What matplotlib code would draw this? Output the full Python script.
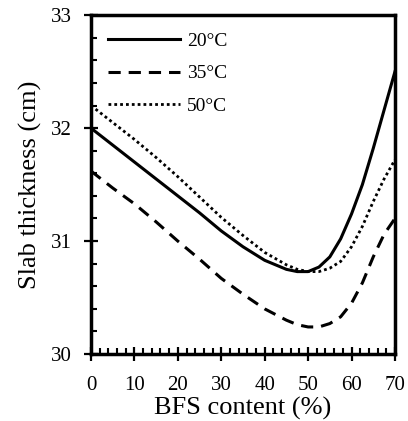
import matplotlib
matplotlib.use("Agg")
import matplotlib.pyplot as plt
from matplotlib.ticker import MultipleLocator

plt.rcParams['font.family'] = ['Liberation Serif', 'DejaVu Serif']

# datos
bfs = [0, 5, 10, 15, 20, 25, 30, 35, 40, 45, 47.5, 50, 52.5, 55, 57.5, 60, 62.5, 65, 67.5, 70]
t20 = [32.0, 31.85, 31.70, 31.55, 31.40, 31.25, 31.09, 30.95, 30.83, 30.75, 30.73, 30.73, 30.77, 30.86, 31.02, 31.24, 31.50, 31.82, 32.16, 32.50]
t35 = [31.62, 31.47, 31.33, 31.17, 31.00, 30.84, 30.67, 30.53, 30.40, 30.30, 30.26, 30.24, 30.24, 30.27, 30.33, 30.45, 30.63, 30.86, 31.06, 31.20]
t50 = [32.20, 32.05, 31.90, 31.74, 31.57, 31.39, 31.21, 31.05, 30.90, 30.79, 30.75, 30.73, 30.73, 30.76, 30.82, 30.95, 31.13, 31.35, 31.55, 31.72]
etiquetas = ['20\u00b0C', '35\u00b0C', '50\u00b0C']

fig = plt.figure(figsize=(4.08, 4.21), dpi=100)
ax = fig.add_axes([0.223, 0.159, 0.745, 0.805])

ax.plot(bfs, t20, color='black', lw=2.2, linestyle='-', label=etiquetas[0])
ax.plot(bfs, t35, color='black', lw=2.2, linestyle=(0, (4, 2.6)), label=etiquetas[1])
ax.plot(bfs, t50, color='black', lw=2.0, linestyle=(0, (1, 1.1)), label=etiquetas[2])

ax.set_xlim(0, 70)
ax.set_ylim(30, 33)
ax.xaxis.set_major_locator(MultipleLocator(10))
ax.xaxis.set_minor_locator(MultipleLocator(2))
ax.yaxis.set_major_locator(MultipleLocator(1))
ax.yaxis.set_minor_locator(MultipleLocator(0.2))
ax.tick_params(which='major', direction='inout', length=10, width=1.6, labelsize=15)
ax.tick_params(axis='x', which='major', pad=11)
ax.tick_params(axis='y', which='major', pad=9)
ax.tick_params(which='minor', direction='in', length=4, width=1.5)

for s in ax.spines.values():
    s.set_linewidth(2.5)

ax.set_xlabel('BFS content (%)', fontsize=19, labelpad=1)
ax.set_ylabel('Slab thickness (cm)', fontsize=19, labelpad=6)

ax.legend(loc='upper left', frameon=False, fontsize=14, handlelength=3.7,
          handletextpad=0.35, labelspacing=0.75, borderaxespad=0.6,
          borderpad=0.3)

fig.savefig('out.png', dpi=100)
